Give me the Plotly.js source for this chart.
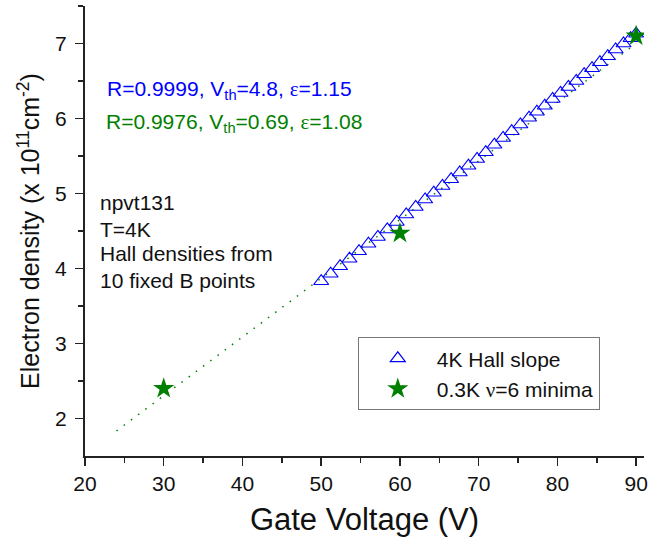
<!DOCTYPE html>
<html>
<head>
<meta charset="utf-8">
<script src="https://cdn.plot.ly/plotly-3.0.1.min.js"></script>
<style>html,body{margin:0;padding:0;background:#fff;}#chart{width:649px;height:546px;}</style>
</head>
<body>
<div id="chart"></div>
<script>
// 4K Hall slope densities
const hallVg = [50.0, 51.2, 52.4, 53.6, 54.8, 56.0, 57.2, 58.4, 59.6, 60.8, 62.0, 63.2, 64.3, 65.4, 66.5, 67.6, 68.7, 69.8, 70.9, 72.0, 73.1, 74.2, 75.3, 76.4, 77.4, 78.4, 79.4, 80.4, 81.4, 82.4, 83.4, 84.4, 85.4, 86.4, 87.4, 88.4, 89.3, 90.0];
const hallN  = [3.83, 3.93, 4.03, 4.13, 4.23, 4.33, 4.42, 4.52, 4.62, 4.72, 4.82, 4.92, 5.01, 5.10, 5.19, 5.28, 5.37, 5.46, 5.55, 5.65, 5.74, 5.83, 5.92, 6.01, 6.09, 6.17, 6.26, 6.34, 6.42, 6.50, 6.59, 6.67, 6.75, 6.83, 6.92, 7.00, 7.07, 7.13];
// 0.3K nu=6 minima
const minVg = [30, 60, 90];
const minN  = [2.40, 4.47, 7.10];
// linear fit of minima (dotted)
const fitVg = [24, 90];
const fitN  = [1.835, 7.00];

const xTicks = [20, 30, 40, 50, 60, 70, 80, 90];
const yTicks = [2, 3, 4, 5, 6, 7];

const FONT = 'Liberation Sans, Arial, sans-serif';
const BLUE = '#0000FF';
const GREEN = '#008000';
const SERIF = "<span style='font-family:Liberation Serif,Times New Roman,serif'>";

const traces = [
  {x: fitVg, y: fitN, mode: 'lines', showlegend: false, hoverinfo: 'skip',
   line: {color: GREEN, width: 1.5, dash: '1.5px,7.5px'}},
  {x: hallVg, y: hallN, mode: 'markers', name: '4K Hall slope',
   marker: {symbol: 'triangle-up-open', size: 13, color: BLUE, line: {width: 1.2, color: BLUE}}},
  {x: minVg, y: minN, mode: 'markers', name: '0.3K ' + SERIF + 'ν</span>=6 minima',
   marker: {symbol: 'star', size: 16, color: GREEN, line: {width: 0}}}
];

const axBase = {
  showgrid: false, zeroline: false, showline: true, linecolor: '#222', linewidth: 2,
  tickcolor: '#222', tickwidth: 1.5, ticklen: 8
};

const layout = {
  width: 649, height: 546,
  margin: {l: 85, r: 5, t: 6, b: 90},
  paper_bgcolor: '#fff', plot_bgcolor: '#fff',
  font: {family: FONT, color: '#111', size: 21},
  showlegend: true,
  legend: {x: 0.488, y: 0.264, xanchor: 'left', yanchor: 'top',
    bordercolor: '#777', borderwidth: 1, bgcolor: '#fff',
    font: {family: FONT, size: 21, color: '#111'}, itemwidth: 68, tracegroupgap: 0},
  xaxis: Object.assign({}, axBase, {
    range: [20, 91], tickmode: 'array', tickvals: xTicks, ticktext: xTicks.map(String),
    ticks: 'outside', tickfont: {family: FONT, size: 21, color: '#111'},
    minor: {tickmode: 'array', tickvals: [25, 35, 45, 55, 65, 75, 85], ticks: 'outside', ticklen: 5, tickwidth: 1.5, tickcolor: '#222'},
    title: {text: 'Gate Voltage (V)', font: {family: FONT, size: 31, color: '#111'}, standoff: 14}
  }),
  yaxis: Object.assign({}, axBase, {
    range: [1.5, 7.5], tickmode: 'array', tickvals: yTicks, ticktext: yTicks.map(String),
    ticks: 'outside', ticklabelstandoff: 4, tickfont: {family: FONT, size: 21, color: '#111'},
    minor: {tickmode: 'array', tickvals: [2.5, 3.5, 4.5, 5.5, 6.5, 7.5], ticks: 'outside', ticklen: 5, tickwidth: 1.5, tickcolor: '#222'},
    title: {text: 'Electron density (x 10<sup>11</sup>cm<sup>-2</sup>)', font: {family: FONT, size: 25, color: '#111'}, standoff: 8}
  }),
  xaxis2: Object.assign({}, axBase, {
    overlaying: 'x', side: 'top', anchor: 'y', range: [20, 91],
    tickmode: 'array', tickvals: xTicks, ticks: 'inside', showticklabels: false,
    minor: {tickmode: 'array', tickvals: [25, 35, 45, 55, 65, 75, 85], ticks: 'inside', ticklen: 5, tickwidth: 1.5, tickcolor: '#222'}
  }),
  yaxis2: Object.assign({}, axBase, {
    overlaying: 'y', side: 'right', anchor: 'x', range: [1.5, 7.5],
    tickmode: 'array', tickvals: yTicks, ticks: 'inside', showticklabels: false,
    minor: {tickmode: 'array', tickvals: [2.5, 3.5, 4.5, 5.5, 6.5, 7.5], ticks: 'inside', ticklen: 5, tickwidth: 1.5, tickcolor: '#222'}
  }),
  annotations: [
    {x: 22.54, y: 6.385, xref: 'x', yref: 'y', xanchor: 'left', yanchor: 'middle', showarrow: false,
     text: 'R=0.9999, V<sub>th</sub>=4.8, ' + SERIF + 'ε</span>=1.15', font: {family: FONT, size: 21, color: BLUE}},
    {x: 22.4, y: 5.94, xref: 'x', yref: 'y', xanchor: 'left', yanchor: 'middle', showarrow: false,
     text: 'R=0.9976, V<sub>th</sub>=0.69, ' + SERIF + 'ε</span>=1.08', font: {family: FONT, size: 21, color: GREEN}},
    {x: 21.65, y: 4.886, xref: 'x', yref: 'y', xanchor: 'left', yanchor: 'middle', showarrow: false,
     text: 'npvt131', font: {family: FONT, size: 21, color: '#111'}},
    {x: 21.65, y: 4.523, xref: 'x', yref: 'y', xanchor: 'left', yanchor: 'middle', showarrow: false,
     text: 'T=4K', font: {family: FONT, size: 21, color: '#111'}},
    {x: 21.65, y: 4.195, xref: 'x', yref: 'y', xanchor: 'left', yanchor: 'middle', showarrow: false,
     text: 'Hall densities from', font: {family: FONT, size: 21, color: '#111'}},
    {x: 21.65, y: 3.837, xref: 'x', yref: 'y', xanchor: 'left', yanchor: 'middle', showarrow: false,
     text: '10 fixed B points', font: {family: FONT, size: 21, color: '#111'}}
  ]
};

Plotly.newPlot('chart', traces, layout, {displayModeBar: false, staticPlot: true});
</script>
</body>
</html>
